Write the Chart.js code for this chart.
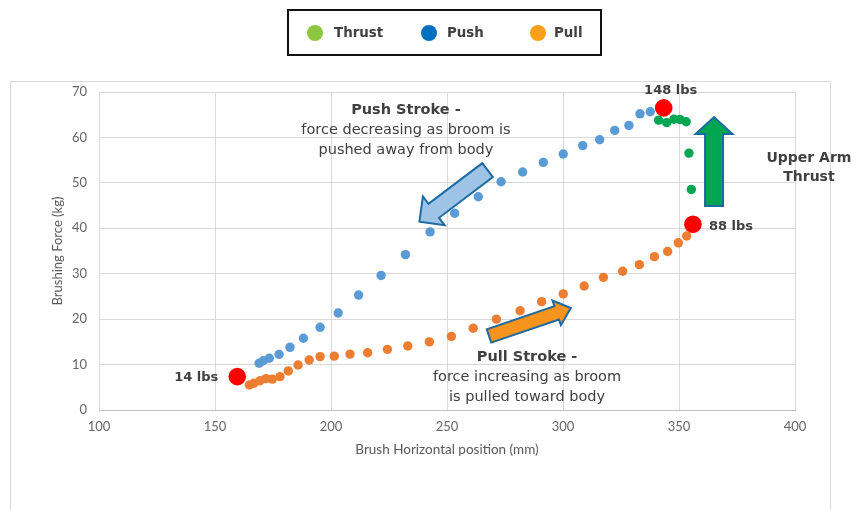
<!DOCTYPE html>
<html><head><meta charset="utf-8">
<script src="https://cdn.jsdelivr.net/npm/chart.js@4.4.1/dist/chart.umd.min.js"></script>
<style>
html,body{margin:0;padding:0;background:#fff;}
#wrap{position:relative;width:852px;height:510px;overflow:hidden;background:#fff;}
#frame{position:absolute;left:10px;top:81px;width:821px;height:460px;border:1px solid #D9D9D9;box-sizing:border-box;}
#c{position:absolute;left:0;top:0;}
#legendBox{position:absolute;left:287px;top:9px;width:315px;height:47px;border:2px solid #111;box-sizing:border-box;}
.dot{position:absolute;width:16px;height:16px;border-radius:50%;top:25px;}
.lbl{position:absolute;top:25px;line-height:20px;font:bold 13.4px "DejaVu Sans";color:#404040;white-space:nowrap;}
</style></head>
<body>
<div id="wrap">
  <div id="frame"></div>
  <canvas id="c" width="852" height="510"></canvas>
  <div id="legendBox"></div>
  <span class="dot" style="left:307px;background:#8DC63F"></span><span class="lbl" style="left:334px">Thrust</span>
  <span class="dot" style="left:421px;background:#0070C0"></span><span class="lbl" style="left:447px">Push</span>
  <span class="dot" style="left:530px;background:#F9A11B"></span><span class="lbl" style="left:554px">Pull</span>
</div>
<script>
// ---- data ----
const pushX = [169.0,170.8,173.4,177.6,182.3,188.1,195.3,203.1,211.9,221.6,232.1,242.7,253.3,263.5,273.3,282.6,291.5,300.1,308.5,315.8,322.3,328.4,333.2,337.6];
const pushY = [10.3,10.85,11.4,12.25,13.8,15.8,18.2,21.35,25.3,29.6,34.2,39.2,43.3,46.95,50.25,52.4,54.5,56.35,58.2,59.5,61.55,62.65,65.2,65.65];
const pullX = [164.8,166.8,169.4,172.0,174.7,178.0,181.6,185.8,190.6,195.3,201.4,208.2,215.8,224.3,233.1,242.4,251.9,261.3,271.3,281.5,290.8,300.1,309.1,317.4,325.7,332.9,339.4,345.1,349.7,353.3];
const pullY = [5.5,5.9,6.45,6.9,6.8,7.35,8.6,9.9,11.0,11.75,11.85,12.3,12.6,13.35,14.1,15.0,16.2,18.0,20.0,21.85,23.85,25.55,27.3,29.2,30.55,32.0,33.75,34.9,36.8,38.3];
const thrustX = [341.2,344.7,347.8,350.4,353.1,354.3,355.3];
const thrustY = [63.8,63.25,64.0,63.95,63.45,56.55,48.55];
const peakX = [159.6,343.4,356.0];
const peakY = [7.35,66.5,40.9];
const peakLabels = ['14 lbs','148 lbs','88 lbs'];
const xMin = 100, xMax = 400, xStep = 50;
const yMin = 0, yMax = 70, yStep = 10;
const xTitle = 'Brush Horizontal position (mm)';
const yTitle = 'Brushing Force (kg)';

const toPts = (xs, ys) => xs.map((v, i) => ({x: v, y: ys[i]}));

// ---- annotations (anchored in data units) ----
const arrows = [
  {from:[267.5,52.8], to:[238.1,41.45], shaft:17.5, head:36, headLen:18, fill:'#9DC3E6'},
  {from:[268.1,16.3], to:[303.4,22.45], shaft:14, head:26, headLen:15, fill:'#F7941D'},
  {from:[365.1,44.9], to:[365.1,64.5], shaft:18, head:37, headLen:17, fill:'#00A651'}
];
const notes = [
  {at:[232.3,66.0], lh:20, lines:[['Push Stroke -',true],['force decreasing as broom is',false],['pushed away from body',false]]},
  {at:[284.5,11.67], lh:20, lines:[['Pull Stroke -',true],['force increasing as broom',false],['is pulled toward body',false]]},
  {at:[406.0,55.47], lh:19, size:14, lines:[['Upper Arm',true],['Thrust',true]]}
];
const peakLabelPos = [
  {dx:-19, dy:1, align:'right'},
  {dx:7, dy:-17, align:'center'},
  {dx:16, dy:2, align:'left'}
];

function blockArrow(ctx, x1, y1, x2, y2, shaftW, headW, headL, fill) {
  const dx = x2 - x1, dy = y2 - y1, len = Math.hypot(dx, dy);
  const ux = dx / len, uy = dy / len, nx = -uy, ny = ux;
  const bx = x2 - ux * headL, by = y2 - uy * headL;
  const s = shaftW / 2, h = headW / 2;
  ctx.beginPath();
  ctx.moveTo(x1 + nx * s, y1 + ny * s);
  ctx.lineTo(bx + nx * s, by + ny * s);
  ctx.lineTo(bx + nx * h, by + ny * h);
  ctx.lineTo(x2, y2);
  ctx.lineTo(bx - nx * h, by - ny * h);
  ctx.lineTo(bx - nx * s, by - ny * s);
  ctx.lineTo(x1 - nx * s, y1 - ny * s);
  ctx.closePath();
  ctx.fillStyle = fill;
  ctx.fill();
  ctx.lineWidth = 2;
  ctx.lineJoin = 'miter';
  ctx.strokeStyle = '#1D6AA2';
  ctx.stroke();
}

const overlay = {
  id: 'overlay',
  beforeDatasetsDraw(chart) {
    const {ctx, scales: {x, y}} = chart;
    ctx.save();
    arrows.forEach(a => blockArrow(ctx,
      x.getPixelForValue(a.from[0]), y.getPixelForValue(a.from[1]),
      x.getPixelForValue(a.to[0]), y.getPixelForValue(a.to[1]),
      a.shaft, a.head, a.headLen, a.fill));
    ctx.restore();
  },
  afterDatasetsDraw(chart) {
    const {ctx, scales: {x, y}} = chart;
    ctx.save();
    ctx.fillStyle = '#404040';
    ctx.textBaseline = 'middle';
    notes.forEach(n => {
      const px = x.getPixelForValue(n.at[0]);
      const py = y.getPixelForValue(n.at[1]);
      ctx.textAlign = 'center';
      n.lines.forEach((l, i) => {
        ctx.font = (l[1] ? 'bold ' : '') + (n.size || 14.5) + 'px "DejaVu Sans"';
        ctx.fillText(l[0], px, py + i * n.lh);
      });
    });
    const meta = chart.getDatasetMeta(0);
    ctx.font = 'bold 13px "DejaVu Sans"';
    meta.data.forEach((pt, i) => {
      const p = peakLabelPos[i];
      ctx.textAlign = p.align;
      ctx.fillText(peakLabels[i], pt.x + p.dx, pt.y + p.dy);
    });
    ctx.restore();
  }
};

Chart.defaults.font.family = 'Lato';
new Chart(document.getElementById('c'), {
  type: 'scatter',
  data: {
    datasets: [
      {label:'Peaks', data: toPts(peakX, peakY), backgroundColor:'#FF0000', borderWidth:0, pointRadius:8.8, order:0},
      {label:'Thrust', data: toPts(thrustX, thrustY), backgroundColor:'#00A651', borderWidth:0, pointRadius:4.7, order:1},
      {label:'Push', data: toPts(pushX, pushY), backgroundColor:'#5B9BD5', borderWidth:0, pointRadius:4.7, order:2},
      {label:'Pull', data: toPts(pullX, pullY), backgroundColor:'#ED7D31', borderWidth:0, pointRadius:4.7, order:3}
    ]
  },
  options: {
    responsive: false,
    animation: false,
    layout: {padding: {left: 0, top: 92, right: 57, bottom: 0}},
    plugins: {legend: {display: false}, tooltip: {enabled: false}},
    scales: {
      x: {
        type: 'linear', min: xMin, max: xMax,
        ticks: {stepSize: xStep, color: '#666666', font: {size: 13}, padding: 9},
        grid: {color: '#D9D9D9', drawTicks: false},
        border: {color: '#BFBFBF'},
        title: {display: true, text: xTitle, color: '#595959', font: {size: 13.5}, padding: {top: 0, bottom: 52}},
        afterFit(s) { s.height = 100; }
      },
      y: {
        type: 'linear', min: yMin, max: yMax,
        ticks: {stepSize: yStep, color: '#666666', font: {size: 13}, padding: 12},
        grid: {color: '#D9D9D9', drawTicks: false},
        border: {display: false},
        title: {display: true, text: yTitle, color: '#595959', font: {size: 13}, padding: {top: 50, bottom: 0}},
        afterFit(s) { s.width = 99; }
      }
    }
  },
  plugins: [overlay]
});
</script>
</body></html>
